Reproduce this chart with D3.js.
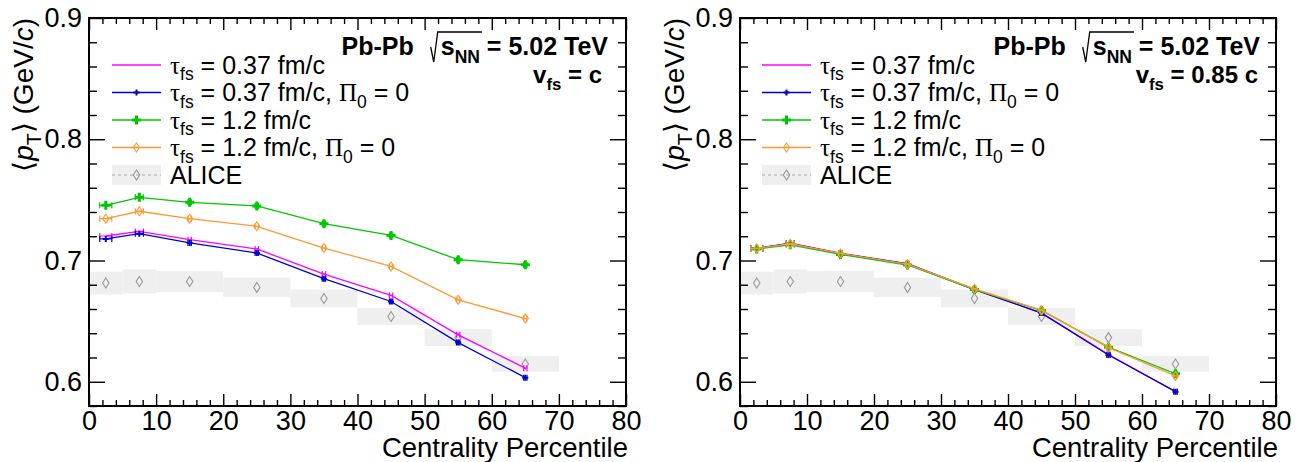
<!DOCTYPE html>
<html>
<head>
<meta charset="utf-8">
<script src="https://cdn.jsdelivr.net/npm/d3@7"></script>
<style>
  html, body { margin: 0; padding: 0; background: #ffffff; }
  svg { display: block; }
  text { font-family: "Liberation Sans", Arial, Helvetica, sans-serif; fill: #000; white-space: pre; }
</style>
</head>
<body>
<svg id="chart" width="1313" height="462"></svg>
<script>
// ---- data -------------------------------------------------------------
const centrality    = [2.5, 7.5, 15, 25, 35, 45, 55, 65];
const centralityErr = [0.9, 0.6, 0.25, 0.25, 0.25, 0.25, 0.25, 0.25];

// ALICE <pT> with systematic boxes spanning each centrality class
const aliceBinLow  = [0, 5, 10, 20, 30, 40, 50, 60];
const aliceBinHigh = [5, 10, 20, 30, 40, 50, 60, 70];
const aliceMeanPt  = [0.6814, 0.6827, 0.6827, 0.6778, 0.6687, 0.6538, 0.6364, 0.6147];
const aliceSys     = [0.0094, 0.0099, 0.0087, 0.0080, 0.0073, 0.0070, 0.0069, 0.0064];

// free-streaming velocity v_fs = c
const tau037_vc      = [0.7202, 0.7240, 0.7172, 0.7095, 0.6888, 0.6712, 0.6387, 0.6112];
const tau037Pi0_vc   = [0.7178, 0.7221, 0.7145, 0.7062, 0.6850, 0.6662, 0.6323, 0.6034];
const tau12_vc       = [0.7455, 0.7521, 0.7480, 0.7450, 0.7304, 0.7207, 0.7007, 0.6965];
const tau12Pi0_vc    = [0.7345, 0.7406, 0.7345, 0.7282, 0.7103, 0.6951, 0.6676, 0.6521];

// free-streaming velocity v_fs = 0.85 c
const tau037_v085    = [0.7102, 0.7142, 0.7060, 0.6974, 0.6762, 0.6568, 0.6225, 0.5920];
const tau037Pi0_v085 = [0.7100, 0.7140, 0.7057, 0.6972, 0.6760, 0.6566, 0.6221, 0.5918];
const tau12_v085     = [0.7095, 0.7130, 0.7050, 0.6963, 0.6760, 0.6588, 0.6285, 0.6066];
const tau12Pi0_v085  = [0.7100, 0.7138, 0.7058, 0.6970, 0.6766, 0.6590, 0.6282, 0.6048];

const xTickLabels = [0, 10, 20, 30, 40, 50, 60, 70, 80];
const yTickLabels = [0.6, 0.7, 0.8, 0.9];
const xDomain = [0, 80];
const yDomain = [0.58, 0.9];

// ---- styling ----------------------------------------------------------
const SANS = '"Liberation Sans", Arial, Helvetica, sans-serif';
const SERIF = '"Liberation Serif", "Times New Roman", Times, serif';
const frameTop = 18, frameBottom = 406;

const seriesStyle = [
  { key: "tau037",    color: "#ff00ff", marker: "none",      tau: "0.37", pi0: false },
  { key: "tau037Pi0", color: "#0000cc", marker: "smallPlus", tau: "0.37", pi0: true },
  { key: "tau12",     color: "#00c800", marker: "bigPlus",   tau: "1.2",  pi0: false },
  { key: "tau12Pi0",  color: "#ff9933", marker: "diamond",   tau: "1.2",  pi0: true }
];

const panels = [
  {
    x0: 89, x1: 626, titleX: 33,
    values: { tau037: tau037_vc, tau037Pi0: tau037Pi0_vc, tau12: tau12_vc, tau12Pi0: tau12Pi0_vc },
    vfs: " = c", headerRight: 608, vfsRight: 602, legendX: 112
  },
  {
    x0: 740, x1: 1276, titleX: 684,
    values: { tau037: tau037_v085, tau037Pi0: tau037Pi0_v085, tau12: tau12_v085, tau12Pi0: tau12Pi0_v085 },
    vfs: " = 0.85 c", headerRight: 1260, vfsRight: 1258, legendX: 762
  }
];

const svg = d3.select("#chart");

// Writes a run of text pieces; pieces flagged sub are shifted down and shrunk.
function richText(g, x, y, size, pieces, anchor, extra, dropFactor) {
  const t = g.append("text")
    .attr("x", x).attr("y", y)
    .attr("font-size", size)
    .attr("text-anchor", anchor || "start");
  if (extra) extra(t);
  let shifted = false;
  const drop = size * (dropFactor || 0.3);
  pieces.forEach(p => {
    const s = t.append("tspan").text(p.t);
    let dy = 0;
    if (p.sub && !shifted) { dy = drop; shifted = true; }
    else if (!p.sub && shifted) { dy = -drop; shifted = false; }
    if (dy) s.attr("dy", dy);
    if (p.sub) s.attr("font-size", size * 0.7);
    if (p.serif) s.style("font-family", SERIF);
    if (p.italic) s.attr("font-style", "italic");
    if (p.bold) s.attr("font-weight", "bold");
    if (p.dx) s.attr("dx", p.dx);
  });
  return t;
}

function drawMarker(g, type, cx, cy, color) {
  if (type === "bigPlus") {
    g.append("path")
      .attr("d", `M${cx-4.5},${cy-1.5}h3v-3h3v3h3v3h-3v3h-3v-3h-3z`)
      .attr("fill", color);
  } else if (type === "smallPlus") {
    g.append("path")
      .attr("d", `M${cx-3},${cy-1}h2v-2h2v2h2v2h-2v2h-2v-2h-2z`)
      .attr("fill", color);
  } else if (type === "diamond") {
    g.append("path")
      .attr("d", `M${cx},${cy-4.5}L${cx+3},${cy}L${cx},${cy+4.5}L${cx-3},${cy}Z`)
      .attr("fill", "none").attr("stroke", color).attr("stroke-width", 1.1);
  } else if (type === "aliceDiamond") {
    g.append("path")
      .attr("d", `M${cx},${cy-5}L${cx+3.2},${cy}L${cx},${cy+5}L${cx-3.2},${cy}Z`)
      .attr("fill", "none").attr("stroke", "#999999").attr("stroke-width", 1.1);
  }
}

panels.forEach(P => {
  const g = svg.append("g");
  const x = d3.scaleLinear().domain(xDomain).range([P.x0, P.x1]);
  const y = d3.scaleLinear().domain(yDomain).range([frameBottom, frameTop]);

  // ALICE systematic boxes
  g.append("g").selectAll("rect")
    .data(aliceMeanPt.map((v, i) => ({ v, e: aliceSys[i], lo: aliceBinLow[i], hi: aliceBinHigh[i] })))
    .join("rect")
    .attr("x", d => x(d.lo))
    .attr("width", d => x(d.hi) - x(d.lo))
    .attr("y", d => y(d.v + d.e))
    .attr("height", d => y(d.v - d.e) - y(d.v + d.e))
    .attr("fill", "#efefef");
  const aliceG = g.append("g");
  aliceMeanPt.forEach((v, i) => drawMarker(aliceG, "aliceDiamond", x(centrality[i]), y(v)));

  // model curves
  const line = d3.line().x((d, i) => x(centrality[i])).y(d => y(d));
  seriesStyle.forEach(S => {
    const vals = P.values[S.key];
    const sg = g.append("g");
    sg.append("path").datum(vals)
      .attr("d", line)
      .attr("fill", "none").attr("stroke", S.color).attr("stroke-width", 1.3);
    vals.forEach((v, i) => {
      const cx = x(centrality[i]), cy = y(v);
      const xl = x(centrality[i] - centralityErr[i]), xr = x(centrality[i] + centralityErr[i]);
      sg.append("path")
        .attr("d", `M${xl},${cy}H${xr}M${xl},${cy-3}V${cy+3}M${xr},${cy-3}V${cy+3}`)
        .attr("fill", "none").attr("stroke", S.color).attr("stroke-width", 1.2);
      drawMarker(sg, S.marker, cx, cy, S.color);
    });
  });

  // axes: major and minor ticks on all four sides, drawn inward
  const xMinor = d3.range(2, 80, 2).filter(v => v % 10 !== 0);
  const yMinor = d3.range(0, 17).map(i => +(0.58 + i * 0.02).toFixed(2))
    .filter(v => !yTickLabels.some(t => Math.abs(t - v) < 1e-6));

  const axStyle = sel => {
    sel.select(".domain").remove();
    sel.selectAll("line").attr("stroke", "#000").attr("stroke-width", 1.4);
    sel.selectAll("text").attr("font-size", 27).attr("fill", "#000").style("font-family", SANS);
  };

  g.append("g").attr("transform", `translate(0,${frameBottom})`)
    .call(d3.axisBottom(x).tickValues(xTickLabels).tickSize(-12).tickPadding(5).tickFormat(d3.format("d")))
    .call(axStyle);
  g.append("g").attr("transform", `translate(0,${frameBottom})`)
    .call(d3.axisBottom(x).tickValues(xMinor).tickSize(-6).tickFormat(""))
    .call(axStyle);
  g.append("g").attr("transform", `translate(0,${frameTop})`)
    .call(d3.axisTop(x).tickValues(xTickLabels).tickSize(-12).tickFormat(""))
    .call(axStyle);
  g.append("g").attr("transform", `translate(0,${frameTop})`)
    .call(d3.axisTop(x).tickValues(xMinor).tickSize(-6).tickFormat(""))
    .call(axStyle);

  g.append("g").attr("transform", `translate(${P.x0},0)`)
    .call(d3.axisLeft(y).tickValues(yTickLabels).tickSize(-16).tickPadding(7).tickFormat(d3.format(".1f")))
    .call(axStyle);
  g.append("g").attr("transform", `translate(${P.x0},0)`)
    .call(d3.axisLeft(y).tickValues(yMinor).tickSize(-8).tickFormat(""))
    .call(axStyle);
  g.append("g").attr("transform", `translate(${P.x1},0)`)
    .call(d3.axisRight(y).tickValues(yTickLabels).tickSize(-16).tickFormat(""))
    .call(axStyle);
  g.append("g").attr("transform", `translate(${P.x1},0)`)
    .call(d3.axisRight(y).tickValues(yMinor).tickSize(-8).tickFormat(""))
    .call(axStyle);

  // frame
  g.append("rect")
    .attr("x", P.x0).attr("y", frameTop)
    .attr("width", P.x1 - P.x0).attr("height", frameBottom - frameTop)
    .attr("fill", "none").attr("stroke", "#000").attr("stroke-width", 2);

  // axis titles
  richText(g, P.x1 + 2, 457, 27.5, [{ t: "Centrality Percentile" }], "end");
  richText(g, 0, 0, 28, [
    { t: "\u27E8" },
    { t: "p", italic: true },
    { t: "T", sub: true },
    { t: "\u27E9 (GeV/" },
    { t: "c", italic: true },
    { t: ")" }
  ], "end", t => t.attr("transform", `translate(${P.titleX},${frameTop}) rotate(-90)`));

  // collision system header with a drawn radical over s_NN
  const hdr = richText(g, P.headerRight, 55, 25, [
    { t: "Pb-Pb", bold: true },
    { t: "s", bold: true, dx: 27 },
    { t: "NN", bold: true, sub: true },
    { t: " = 5.02 TeV", bold: true }
  ], "end");
  const sStart = hdr.node().getStartPositionOfChar(5).x;
  const nnEnd = hdr.node().getEndPositionOfChar(7).x;
  g.append("path")
    .attr("d", `M${sStart-10},47L${sStart-7},62L${sStart-3},32H${nnEnd+2}`)
    .attr("fill", "none").attr("stroke", "#000").attr("stroke-width", 1.3);

  richText(g, P.vfsRight, 83, 24, [
    { t: "v", bold: true },
    { t: "fs", bold: true, sub: true },
    { t: P.vfs, bold: true }
  ], "end");

  // legend
  const lg = g.append("g");
  const rowY = [65, 92.5, 120, 147.5, 175];
  const lx0 = P.legendX, lx1 = P.legendX + 49, lxm = P.legendX + 24.5, tx = P.legendX + 58;
  seriesStyle.forEach((S, i) => {
    const cy = rowY[i];
    lg.append("line").attr("x1", lx0).attr("x2", lx1).attr("y1", cy).attr("y2", cy)
      .attr("stroke", S.color).attr("stroke-width", 1.3);
    drawMarker(lg, S.marker, lxm, cy, S.color);
    const pieces = [
      { t: "\u03C4", serif: true },
      { t: "fs", sub: true },
      { t: ` = ${S.tau} fm/c` }
    ];
    if (S.pi0) pieces.push({ t: ", " }, { t: "\u03A0", serif: true }, { t: "0", sub: true }, { t: " = 0" });
    richText(lg, tx, cy + 8.5, 25, pieces, "start", null, 0.26);
  });
  const ay = rowY[4];
  lg.append("rect").attr("x", lx0).attr("y", ay - 10).attr("width", lx1 - lx0).attr("height", 20).attr("fill", "#efefef");
  lg.append("line").attr("x1", lx0).attr("x2", lx1).attr("y1", ay).attr("y2", ay)
    .attr("stroke", "#aaaaaa").attr("stroke-width", 1.2).attr("stroke-dasharray", "3,3");
  drawMarker(lg, "aliceDiamond", lxm, ay);
  richText(lg, tx, ay + 9, 25, [{ t: "ALICE" }], "start");
});
</script>
</body>
</html>
